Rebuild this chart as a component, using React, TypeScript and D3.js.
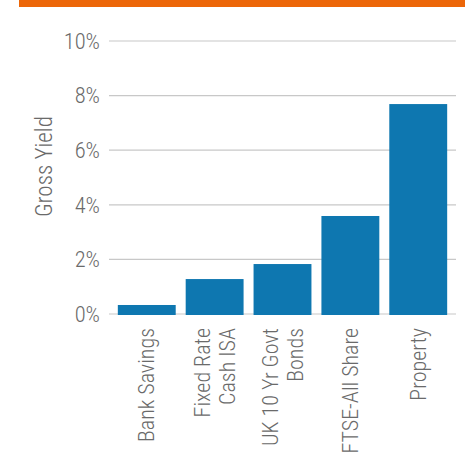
import React from "react";
import * as d3 from "d3";

const categories: string[][] = [
  ["Bank Savings"],
  ["Fixed Rate", "Cash ISA"],
  ["UK 10 Yr Govt", "Bonds"],
  ["FTSE-All Share"],
  ["Property"],
];
const values: number[] = [0.33, 1.28, 1.83, 3.59, 7.69];
const yTicks: number[] = [0, 2, 4, 6, 8, 10];
const yLabel = "Gross Yield";

const W = 465;
const H = 456;
const FONT = "'Liberation Sans Narrow', 'Roboto Condensed', 'Arial Narrow', Roboto, sans-serif";

export default function App() {
  const keys = categories.map((c) => c.join(" "));
  const x = d3
    .scaleBand<string>()
    .domain(keys)
    .range([109, 456])
    .paddingInner(0.147)
    .paddingOuter(0.13);
  const y = d3.scaleLinear().domain([0, 10]).range([314, 41]);
  const grey = "#6a6a6a";

  return (
    <svg
      width={W}
      height={H}
      style={{ position: "absolute", left: 0, top: 0, display: "block" }}
      fontFamily={FONT}
    >
      <rect x={19} y={0} width={W - 19} height={7} fill="#ec6608" />
      {yTicks.map((t) => (
        <g key={t}>
          <line x1={109} x2={456} y1={y(t)} y2={y(t)} stroke="#c8c8c8" strokeWidth={1.2} />
          <text
            x={100}
            y={y(t)}
            dy="0.35em"
            textAnchor="end"
            fontSize={22.5}
            fontWeight={300}
            fill={grey}
          >
            {t}%
          </text>
        </g>
      ))}
      <text
        transform={`translate(44,${y(5.4)}) rotate(-90)`}
        textAnchor="middle"
        dy="0.35em"
        fontSize={23}
        fontWeight={300}
        fill={grey}
      >
        {yLabel}
      </text>
      {keys.map((k, i) => (
        <rect
          key={k}
          x={x(k)}
          y={y(values[i])}
          width={x.bandwidth()}
          height={y(0) - y(values[i]) + 1}
          fill="#0e77b0"
        />
      ))}
      {categories.map((lines, i) => {
        const cx = (x(keys[i]) as number) + x.bandwidth() / 2;
        const lh = 25;
        return lines.map((ln, j) => {
          const off = (j - (lines.length - 1) / 2) * lh;
          return (
            <text
              key={ln}
              transform={`translate(${cx + off},328) rotate(-90)`}
              textAnchor="end"
              dy="0.35em"
              fontSize={22}
              fontWeight={300}
              fill={grey}
            >
              {ln}
            </text>
          );
        });
      })}
    </svg>
  );
}
